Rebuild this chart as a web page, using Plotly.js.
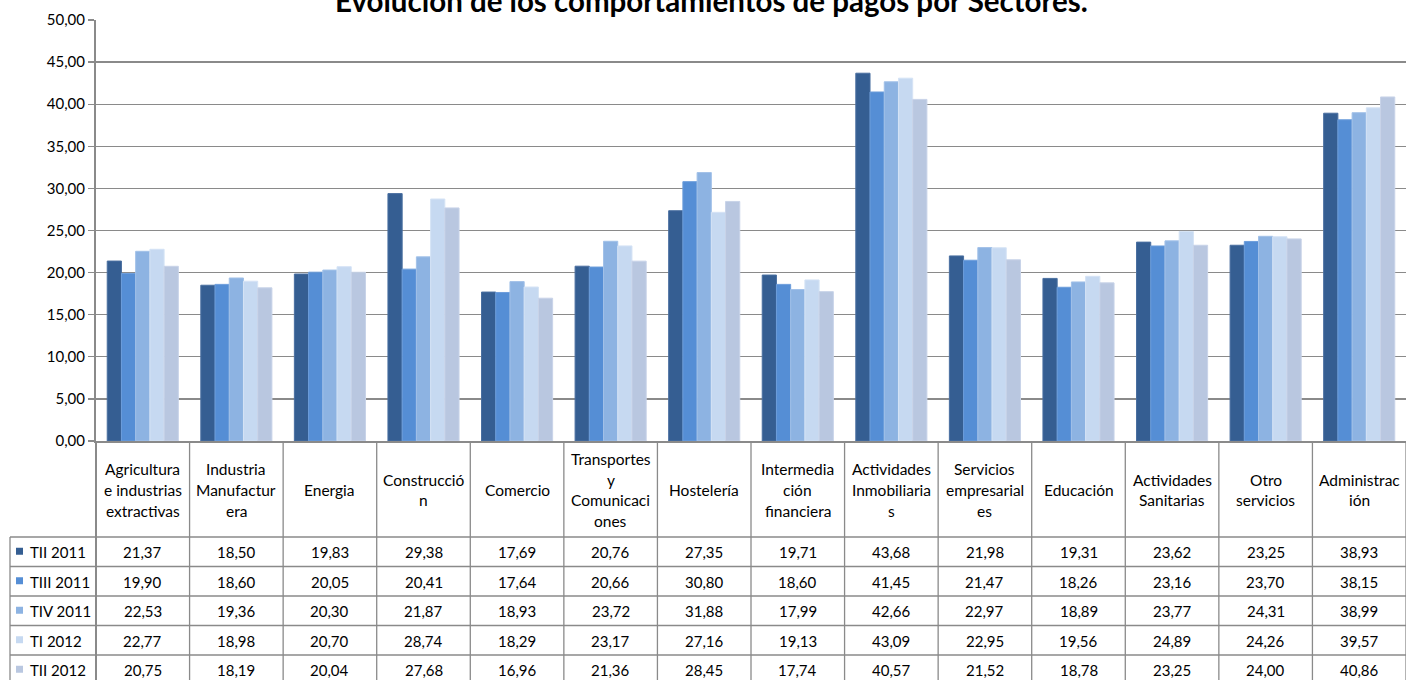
<!DOCTYPE html>
<html>
<head>
<meta charset="utf-8">
<script src="https://cdn.plot.ly/plotly-3.0.1.min.js"></script>
<style>
html,body{margin:0;padding:0;background:#fff;}
#chart{width:1406px;height:680px;}
</style>
</head>
<body>
<div id="chart"></div>
<script>
const categories = ["Agricultura e industrias extractivas","Industria Manufacturera","Energia","Construcción","Comercio","Transportes y Comunicaciones","Hostelería","Intermediación financiera","Actividades Inmobiliarias","Servicios empresariales","Educación","Actividades Sanitarias","Otro servicios","Administración"];
const headerLabels = ["Agricultura<br>e industrias<br>extractivas","Industria<br>Manufactur<br>era","Energia","Construcció<br>n","Comercio","Transportes<br>y<br>Comunicaci<br>ones","Hostelería","Intermedia<br>ción<br>financiera","Actividades<br>Inmobiliaria<br>s","Servicios<br>empresarial<br>es","Educación","Actividades<br>Sanitarias","Otro<br>servicios","Administrac<br>ión"];
const seriesNames = ["TII 2011","TIII 2011","TIV 2011","TI 2012","TII 2012"];
const tii2011  = [21.37,18.50,19.83,29.38,17.69,20.76,27.35,19.71,43.68,21.98,19.31,23.62,23.25,38.93];
const tiii2011 = [19.90,18.60,20.05,20.41,17.64,20.66,30.80,18.60,41.45,21.47,18.26,23.16,23.70,38.15];
const tiv2011  = [22.53,19.36,20.30,21.87,18.93,23.72,31.88,17.99,42.66,22.97,18.89,23.77,24.31,38.99];
const ti2012   = [22.77,18.98,20.70,28.74,18.29,23.17,27.16,19.13,43.09,22.95,19.56,24.89,24.26,39.57];
const tii2012  = [20.75,18.19,20.04,27.68,16.96,21.36,28.45,17.74,40.57,21.52,18.78,23.25,24.00,40.86];
const seriesValues = [tii2011, tiii2011, tiv2011, ti2012, tii2012];
const colors = ["#355E92","#558ED5","#8DB3E2","#C6D9F1","#B9C7E0"];
const edgeColors = ["#4A6FA0","#6C9DDB","#A2C1E8","#D5E3F5","#C8D3E8"];
const titleText = "Evolución de los comportamientos de pagos por Sectores.";

// layout geometry (pixels)
const W = 1406, H = 680;
const PL = 96, PR = 1406, PT = 20, PB = 441;
const headerBottom = 537, rowH = 29.5, legendLeft = 10;
const plotH = PB - PT, plotW = PR - PL;
const py = p => (PB - p) / plotH;        // pixel y -> paper y
const px = p => (p - PL) / plotW;        // pixel x -> paper x
const fmt = v => v.toFixed(2).replace('.', ',');
const FONT = "Lato, 'Open Sans', sans-serif";
const gridColor = "#8A8A8A";

const traces = seriesNames.map((name, s) => ({
  type: 'bar',
  name: name,
  x: categories,
  y: seriesValues[s],
  marker: {color: colors[s], line: {color: edgeColors[s], width: 1}},
  hoverinfo: 'x+y+name'
}));

const shapes = [];
const annotations = [];

// horizontal table lines
const rowLines = [headerBottom];
for (let r = 1; r <= seriesNames.length; r++) rowLines.push(headerBottom + r * rowH);
rowLines.forEach(yy => {
  shapes.push({type:'line', xref:'paper', yref:'paper', x0:px(legendLeft), x1:1.01, y0:py(yy), y1:py(yy), line:{color:gridColor, width:1.3}});
});
// vertical lines
shapes.push({type:'line', xref:'paper', yref:'paper', x0:px(legendLeft), x1:px(legendLeft), y0:py(headerBottom), y1:py(H+10), line:{color:gridColor, width:1.3}});
shapes.push({type:'line', xref:'paper', yref:'paper', x0:0, x1:0, y0:py(PB), y1:py(H+10), line:{color:gridColor, width:2}});
for (let i = 0; i < categories.length; i++) {
  shapes.push({type:'line', xref:'x', yref:'paper', x0:i+0.5, x1:i+0.5, y0:py(PB), y1:py(H+10), line:{color:gridColor, width:1.3}});
}

// header labels (each line placed separately for Excel-like spacing)
const lineGap = 20.5, headerMid = (PB + headerBottom) / 2 + 1;
headerLabels.forEach((lab, i) => {
  const lines = lab.split('<br>');
  lines.forEach((ln, k) => {
    const yc = headerMid + (k - (lines.length - 1) / 2) * lineGap;
    annotations.push({xref:'x', yref:'paper', x:i, y:py(yc), text:ln, showarrow:false, xanchor:'center', yanchor:'middle', font:{family:FONT, size:15.5, color:'#000'}});
  });
});

// data rows
seriesNames.forEach((name, s) => {
  const yc = headerBottom + s * rowH + rowH / 2 + 0.5;
  shapes.push({type:'rect', xref:'paper', yref:'paper', x0:px(16), x1:px(23), y0:py(yc - 3.5 - 1), y1:py(yc + 3.5 - 1), fillcolor:colors[s], line:{width:0}});
  annotations.push({xref:'paper', yref:'paper', x:px(28), y:py(yc), text:name, showarrow:false, xanchor:'left', yanchor:'middle', font:{family:FONT, size:15, color:'#000'}});
  seriesValues[s].forEach((v, i) => {
    annotations.push({xref:'x', yref:'paper', x:i, y:py(yc), text:fmt(v), showarrow:false, xanchor:'center', yanchor:'middle', font:{family:FONT, size:15, color:'#000'}});
  });
});

// title (clipped at top, as in reference)
annotations.push({xref:'paper', yref:'paper', x:px(711), y:py(20.5), text:'<b>' + titleText + '</b>', showarrow:false, xanchor:'center', yanchor:'bottom', font:{family:FONT, size:29.5, color:'#000'}});

const layout = {
  width: W, height: H,
  margin: {l: PL, r: W - PR, t: PT, b: H - PB, pad: 0},
  paper_bgcolor: '#fff', plot_bgcolor: '#fff',
  showlegend: false,
  barmode: 'group', bargap: 0.24, bargroupgap: 0,
  separators: ',.',
  xaxis: {type:'category', range:[-0.5, categories.length - 0.5], showticklabels:false, ticks:'', showgrid:false, zeroline:false, showline:true, linecolor:gridColor, linewidth:2, fixedrange:true},
  yaxis: {range:[0, 50], dtick:5, tick0:0, tickformat:'.2f', showgrid:true, gridcolor:gridColor, gridwidth:1.3, zeroline:false, showline:true, linecolor:gridColor, linewidth:2, ticks:'outside', ticklen:6, tickcolor:gridColor, tickwidth:1.3, tickfont:{family:FONT, size:15, color:'#000'}, fixedrange:true},
  shapes: shapes,
  annotations: annotations,
  font: {family: FONT}
};

Plotly.newPlot('chart', traces, layout, {displayModeBar:false, staticPlot:true});
</script>
</body>
</html>
